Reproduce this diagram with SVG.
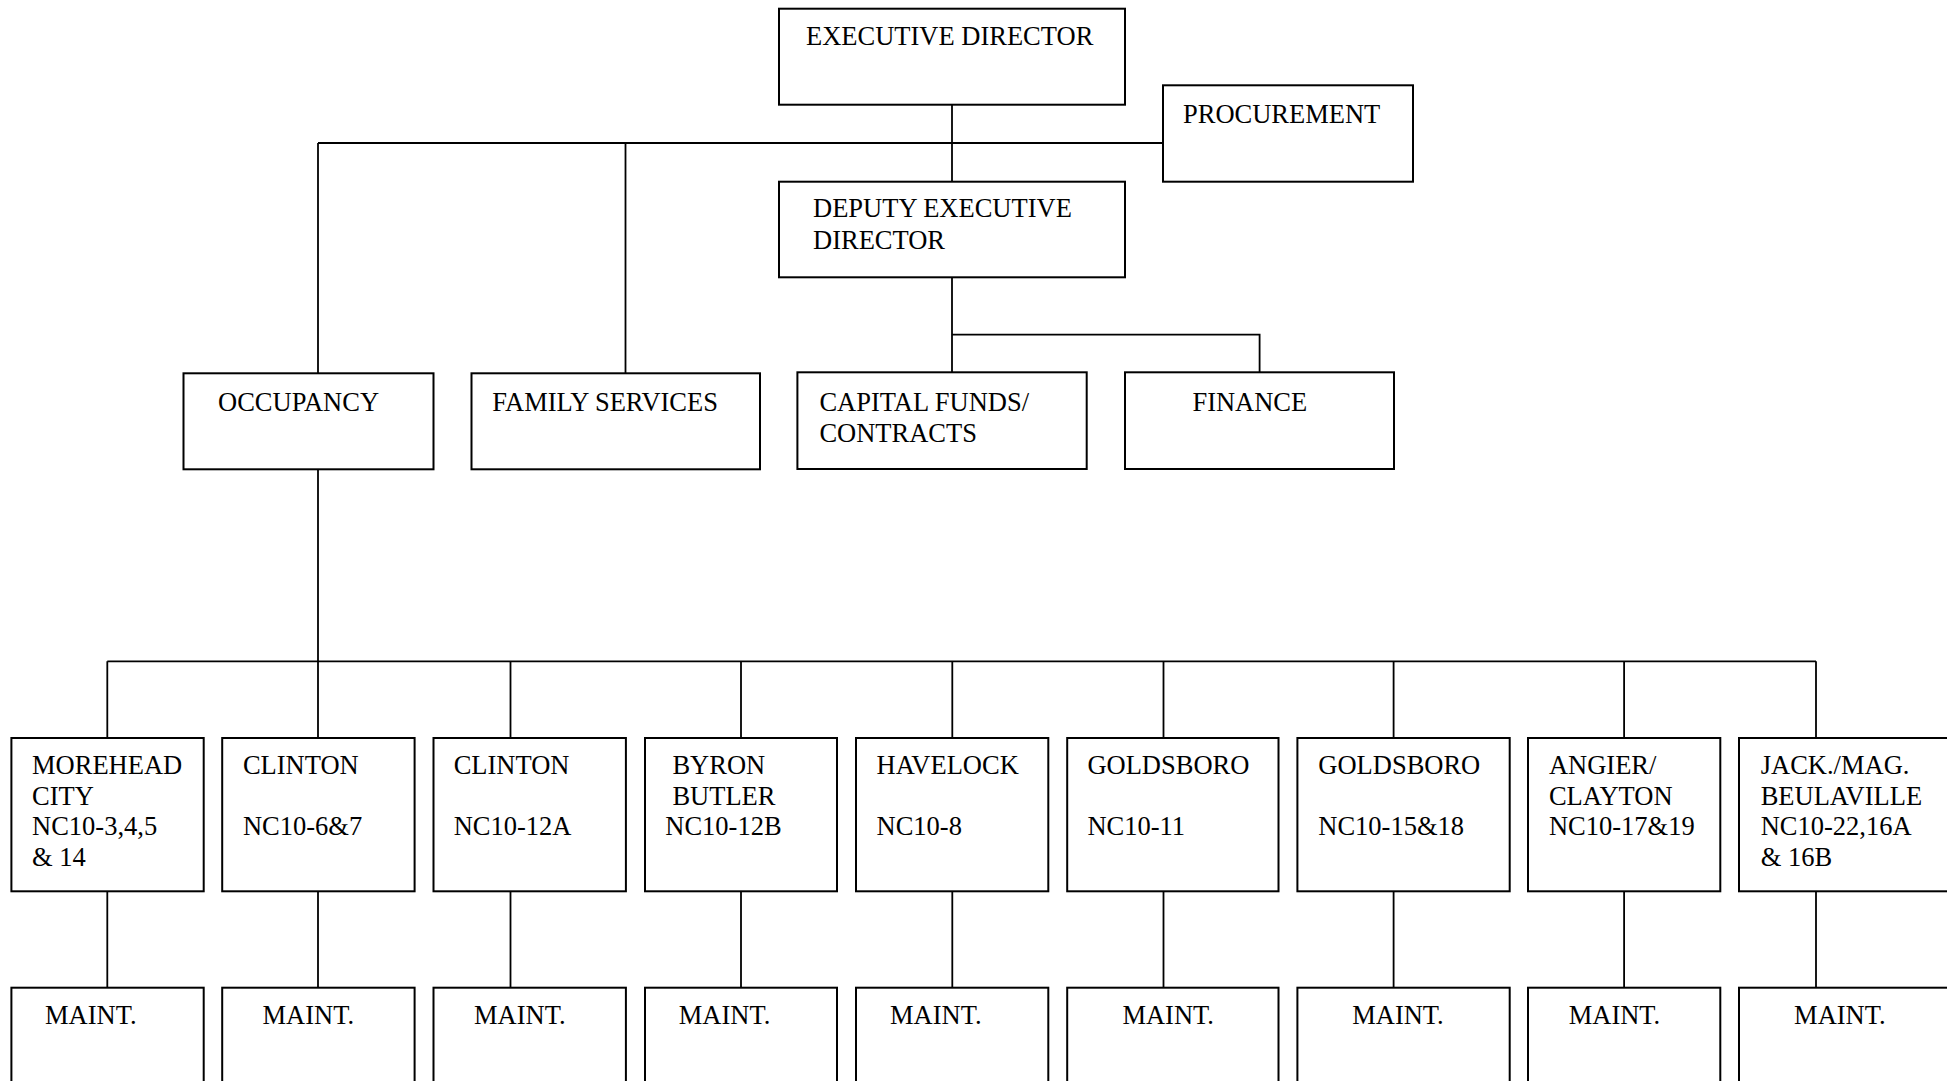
<svg xmlns="http://www.w3.org/2000/svg" width="1947" height="1081" viewBox="0 0 1947 1081">
<style>
.box{fill:#fff;stroke:#000;stroke-width:2}
.ln{fill:none;stroke:#000;stroke-width:1.8}
text{font-family:"Liberation Serif","Times New Roman",serif;font-size:26.5px;fill:#000}
</style>
<rect width="1947" height="1081" fill="#fff"/>
<g id="connectors">
<path class="ln" d="M952,104.7V181.7"/>
<path class="ln" d="M318,143H1163"/>
<path class="ln" d="M318,143V373.3"/>
<path class="ln" d="M625.5,143V373.3"/>
<path class="ln" d="M952,277.3V372.3"/>
<path class="ln" d="M952,334.7H1259.6V372.3"/>
<path class="ln" d="M318,469.3V661.3"/>
<path class="ln" d="M107.3,661.3H1816"/>
<path class="ln" d="M107.3,661.3V738M318,661.3V738M510.5,661.3V738M741,661.3V738M952.3,661.3V738M1163.5,661.3V738M1393.6,661.3V738M1624.1,661.3V738M1816,661.3V738"/>
<path class="ln" d="M107.3,891.3V987.7M318,891.3V987.7M510.5,891.3V987.7M741,891.3V987.7M952.3,891.3V987.7M1163.5,891.3V987.7M1393.6,891.3V987.7M1624.1,891.3V987.7M1816,891.3V987.7"/>
</g>
<g id="exec"><rect class="box" x="779" y="8.7" width="346" height="96"/><text x="806" y="44.5">EXECUTIVE DIRECTOR</text></g>
<g id="procurement"><rect class="box" x="1163" y="85.3" width="250" height="96.4"/><text x="1183" y="122.5">PROCUREMENT</text></g>
<g id="deputy"><rect class="box" x="779" y="181.7" width="346" height="95.6"/><text x="813" y="216.5">DEPUTY EXECUTIVE</text><text x="813" y="248.8">DIRECTOR</text></g>
<g id="occupancy"><rect class="box" x="183.5" y="373.3" width="250" height="96"/><text x="218" y="410.8">OCCUPANCY</text></g>
<g id="family"><rect class="box" x="471.5" y="373.3" width="288.5" height="96"/><text x="492.3" y="410.8">FAMILY SERVICES</text></g>
<g id="capital"><rect class="box" x="797.4" y="372.3" width="289.3" height="96.7"/><text x="819.4" y="410.8">CAPITAL FUNDS/</text><text x="819.4" y="441.5">CONTRACTS</text></g>
<g id="finance"><rect class="box" x="1125" y="372.3" width="269" height="96.7"/><text x="1192.4" y="410.8">FINANCE</text></g>
<g id="morehead"><rect class="box" x="11.4" y="738" width="192.3" height="153.3"/><text x="32" y="774">MOREHEAD</text><text x="32" y="805">CITY</text><text x="32" y="835">NC10-3,4,5</text><text x="32" y="865.7">&amp; 14</text></g>
<g id="clinton1"><rect class="box" x="222.2" y="738" width="192.4" height="153.3"/><text x="242.9" y="774">CLINTON</text><text x="242.9" y="835">NC10-6&amp;7</text></g>
<g id="clinton2"><rect class="box" x="433.5" y="738" width="192.4" height="153.3"/><text x="453.7" y="774">CLINTON</text><text x="453.7" y="835">NC10-12A</text></g>
<g id="byron"><rect class="box" x="645" y="738" width="192" height="153.3"/><text x="672.4" y="774">BYRON</text><text x="672.4" y="805">BUTLER</text><text x="665.3" y="835">NC10-12B</text></g>
<g id="havelock"><rect class="box" x="856" y="738" width="192.3" height="153.3"/><text x="876.5" y="774">HAVELOCK</text><text x="876.5" y="835">NC10-8</text></g>
<g id="goldsboro1"><rect class="box" x="1067.2" y="738" width="211.3" height="153.3"/><text x="1087.4" y="774">GOLDSBORO</text><text x="1087.4" y="835">NC10-11</text></g>
<g id="goldsboro2"><rect class="box" x="1297.4" y="738" width="212.3" height="153.3"/><text x="1318.3" y="774">GOLDSBORO</text><text x="1318.3" y="835">NC10-15&amp;18</text></g>
<g id="angier"><rect class="box" x="1528" y="738" width="192.3" height="153.3"/><text x="1548.9" y="774">ANGIER/</text><text x="1548.9" y="805">CLAYTON</text><text x="1548.9" y="835">NC10-17&amp;19</text></g>
<g id="jack"><rect class="box" x="1739" y="738" width="230" height="153.3"/><text x="1760.7" y="774">JACK./MAG.</text><text x="1760.7" y="805">BEULAVILLE</text><text x="1760.7" y="835">NC10-22,16A</text><text x="1760.7" y="865.7">&amp; 16B</text></g>
<g id="maint1"><rect class="box" x="11.4" y="987.7" width="192.3" height="110"/><text x="45" y="1024.4">MAINT.</text></g>
<g id="maint2"><rect class="box" x="222.2" y="987.7" width="192.4" height="110"/><text x="262.5" y="1024.4">MAINT.</text></g>
<g id="maint3"><rect class="box" x="433.5" y="987.7" width="192.4" height="110"/><text x="474" y="1024.4">MAINT.</text></g>
<g id="maint4"><rect class="box" x="645" y="987.7" width="192" height="110"/><text x="678.8" y="1024.4">MAINT.</text></g>
<g id="maint5"><rect class="box" x="856" y="987.7" width="192.3" height="110"/><text x="890" y="1024.4">MAINT.</text></g>
<g id="maint6"><rect class="box" x="1067.2" y="987.7" width="211.3" height="110"/><text x="1122.4" y="1024.4">MAINT.</text></g>
<g id="maint7"><rect class="box" x="1297.4" y="987.7" width="212.3" height="110"/><text x="1352.2" y="1024.4">MAINT.</text></g>
<g id="maint8"><rect class="box" x="1528" y="987.7" width="192.3" height="110"/><text x="1568.7" y="1024.4">MAINT.</text></g>
<g id="maint9"><rect class="box" x="1739" y="987.7" width="230" height="110"/><text x="1794.1" y="1024.4">MAINT.</text></g>
</svg>
